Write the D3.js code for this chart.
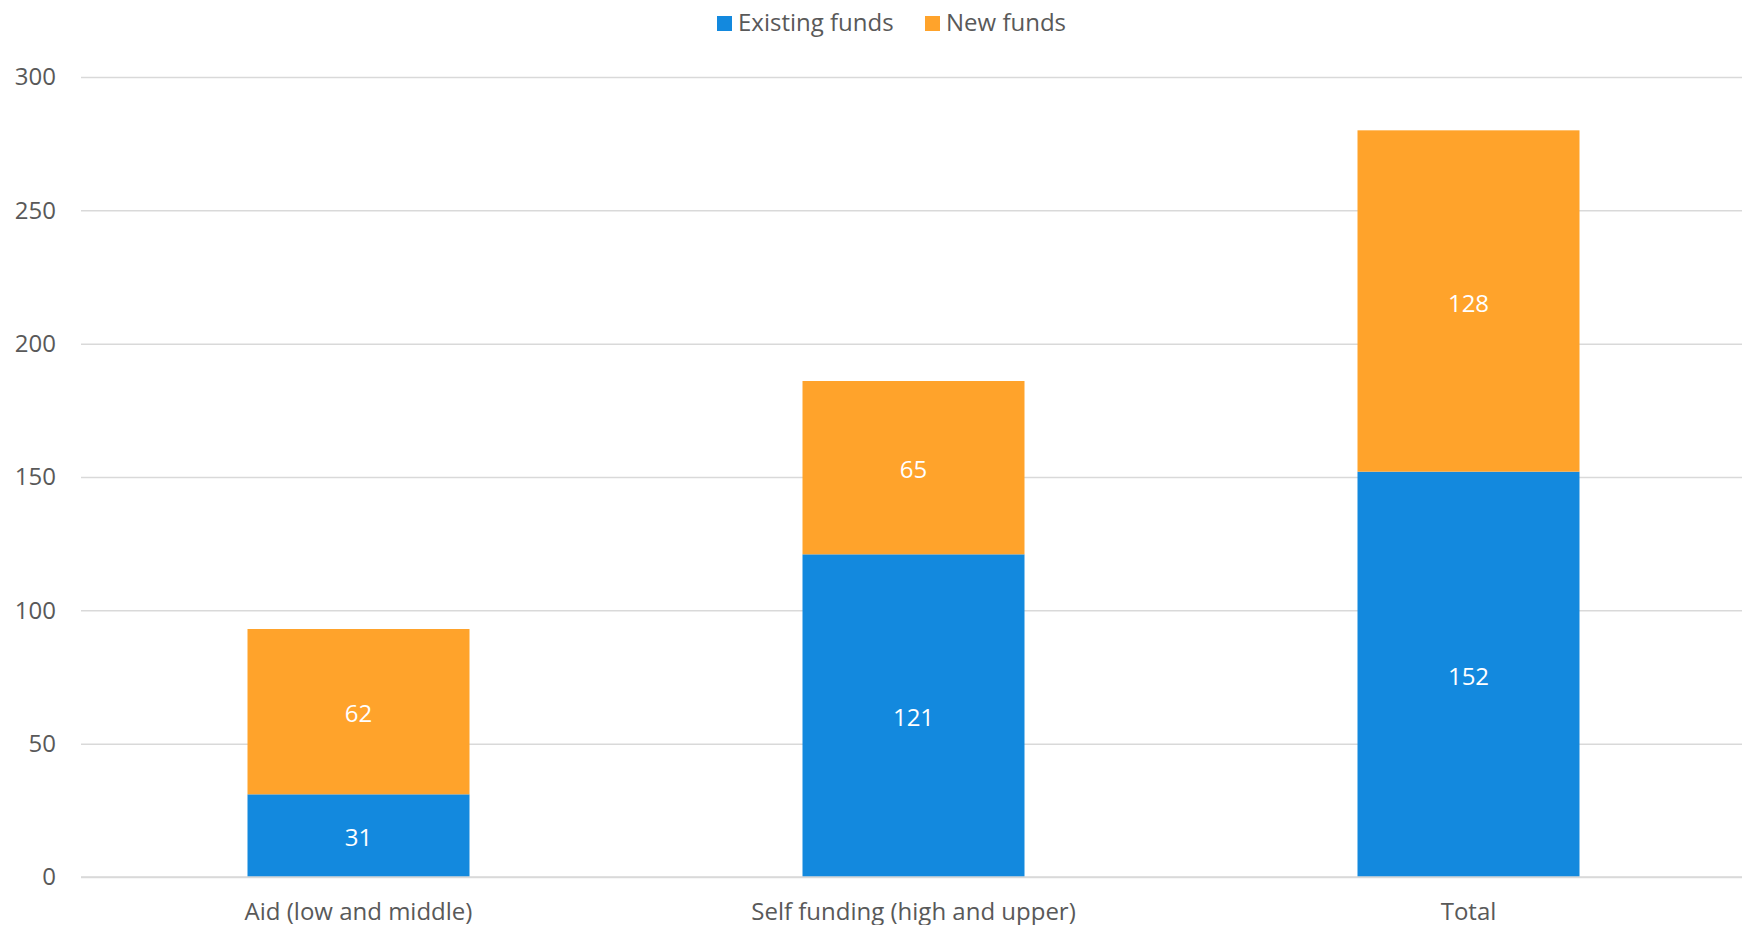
<!DOCTYPE html>
<html>
<head>
<meta charset="utf-8">
<script src="https://cdn.jsdelivr.net/npm/d3@7"></script>
<style>
  html, body { margin: 0; padding: 0; background: #fff; }
  svg { display: block; }
  svg text { font-family: "Open Sans", "Noto Sans", sans-serif; }
</style>
</head>
<body>
<svg id="chart" width="1742" height="925"></svg>
<script>
// Funding by group, split into existing and new funds
const categories = ["Aid (low and middle)", "Self funding (high and upper)", "Total"];
const existingFunds = [31, 121, 152];
const newFunds = [62, 65, 128];
const seriesNames = ["Existing funds", "New funds"];
const seriesColors = ["#1389DE", "#FFA32B"];
const yTicks = [0, 50, 100, 150, 200, 250, 300];

const W = 1742, H = 925;
const margin = { top: 77, right: 0, bottom: 48, left: 81 };
const fontSize = "24px";
const textGrey = "#595959";
const svg = d3.select("#chart");

const rows = categories.map((c, i) => ({ category: c, existing: existingFunds[i], added: newFunds[i] }));
const stack = d3.stack().keys(["existing", "added"])(rows);

const x = d3.scaleBand()
  .domain(categories)
  .range([margin.left, W + 4])
  .paddingInner(0.6)
  .paddingOuter(0.3);

const y = d3.scaleLinear()
  .domain([0, 300])
  .range([H - margin.bottom, margin.top]);

// Horizontal gridlines and y-axis labels
const yAxis = d3.axisLeft(y).tickValues(yTicks).tickSize(-(W - margin.left - margin.right)).tickPadding(25);
const gy = svg.append("g").attr("transform", `translate(${margin.left},0)`).call(yAxis);
gy.attr("font-family", null).attr("font-size", null);
gy.select(".domain").remove();
gy.selectAll(".tick line").attr("stroke", "#D9D9D9").attr("stroke-width", 1.5);
gy.selectAll(".tick text").attr("fill", textGrey).style("font-size", fontSize);

// Stacked bars
const layers = svg.append("g").selectAll("g")
  .data(stack)
  .join("g")
  .attr("fill", (d, i) => seriesColors[i]);

layers.selectAll("rect")
  .data(d => d)
  .join("rect")
  .attr("x", d => x(d.data.category))
  .attr("width", x.bandwidth())
  .attr("y", d => y(d[1]))
  .attr("height", d => y(d[0]) - y(d[1]));

// Segment value labels
layers.selectAll("text")
  .data(d => d)
  .join("text")
  .attr("x", d => x(d.data.category) + x.bandwidth() / 2)
  .attr("y", d => (y(d[0]) + y(d[1])) / 2)
  .attr("dy", "0.44em")
  .attr("text-anchor", "middle")
  .attr("fill", "#fff")
  .style("font-size", fontSize)
  .text(d => d[1] - d[0]);

// Baseline
svg.append("line")
  .attr("x1", margin.left).attr("x2", W - margin.right)
  .attr("y1", y(0)).attr("y2", y(0))
  .attr("stroke", "#D9D9D9").attr("stroke-width", 1.5);

// Category labels
const xAxis = d3.axisBottom(x).tickSize(0).tickPadding(26);
const gx = svg.append("g").attr("transform", `translate(0,${y(0)})`).call(xAxis);
gx.attr("font-family", null).attr("font-size", null);
gx.select(".domain").remove();
gx.selectAll(".tick text").attr("fill", textGrey).style("font-size", fontSize);

// Legend
const legendItems = [
  { name: seriesNames[0], color: seriesColors[0], x: 717 },
  { name: seriesNames[1], color: seriesColors[1], x: 925 }
];
const legend = svg.append("g").selectAll("g")
  .data(legendItems)
  .join("g")
  .attr("transform", d => `translate(${d.x},16)`);
legend.append("rect").attr("width", 15).attr("height", 15).attr("fill", d => d.color);
legend.append("text")
  .attr("x", 21).attr("y", 15)
  .attr("fill", textGrey)
  .style("font-size", fontSize)
  .text(d => d.name);
</script>
</body>
</html>
